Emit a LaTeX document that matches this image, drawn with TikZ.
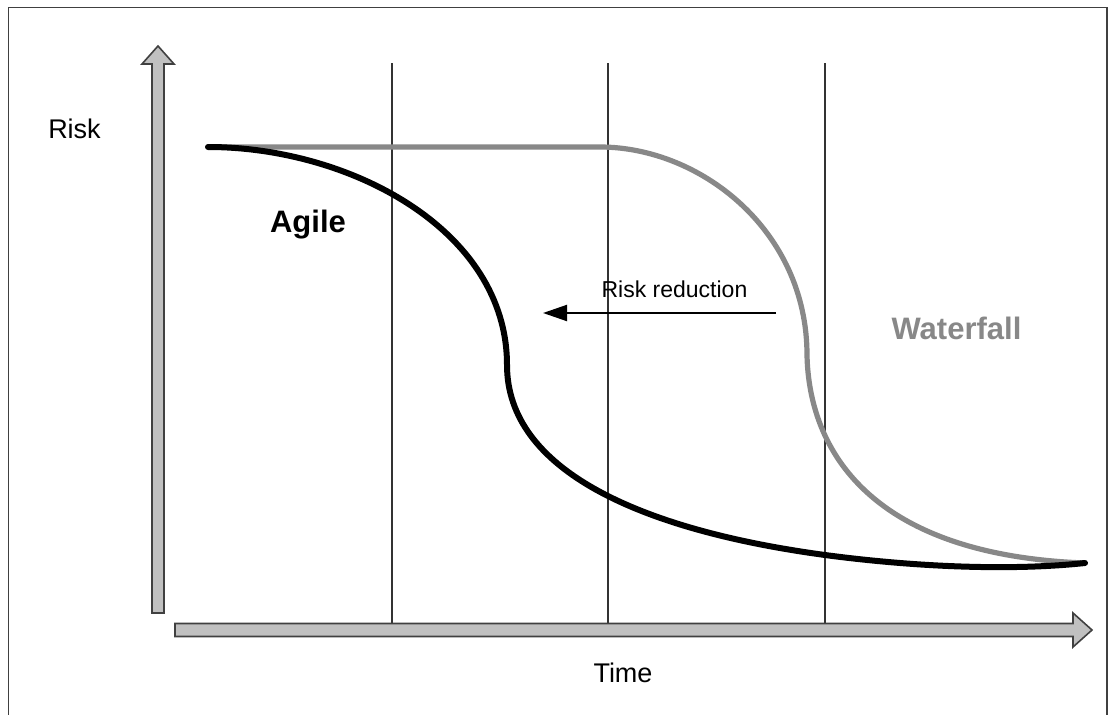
\documentclass[tikz,border=0pt]{standalone}
\usepackage{fontspec}
\setmainfont{Liberation Sans}
\usetikzlibrary{arrows.meta}
\definecolor{axisfill}{HTML}{C0C0C0}
\definecolor{axisline}{HTML}{404040}
\definecolor{wfgray}{HTML}{888888}
\tikzset{
  blockarrow/.style={fill=axisfill,draw=axisline,line width=1.6pt,line join=miter},
  gridline/.style={draw=black!80,line width=1.3pt},
  agilecurve/.style={draw=black,line width=6pt,line cap=round},
  wfcurve/.style={draw=wfgray,line width=5.2pt,line cap=round},
  lbl/.style={inner sep=0pt,anchor=base,font=\fontsize{27}{27}\selectfont},
  biglbl/.style={inner sep=0pt,anchor=base,font=\fontsize{31}{31}\selectfont\bfseries},
}
\begin{document}
\begin{tikzpicture}[x=1pt,y=-1pt]
\useasboundingbox (0,0) rectangle (1109,715);
\fill[white] (0,0) rectangle (1109,715);
% frame
\draw[draw=axisline,line width=1.6pt] (8.5,725) -- (8.5,7.5) -- (1107,7.5) -- (1107,725);
% grid lines
\coordinate (g1t) at (392,63); \coordinate (g1b) at (392,624);
\coordinate (g2t) at (608,63); \coordinate (g2b) at (608,624);
\coordinate (g3t) at (825,63); \coordinate (g3b) at (825,624);
\draw[gridline] (g1t) -- (g1b);
\draw[gridline] (g2t) -- (g2b);
\draw[gridline] (g3t) -- (g3b);
% vertical axis block arrow
\draw[blockarrow] (152,613) -- (152,64) -- (142,64) -- (158,46) -- (174,64) -- (164,64) -- (164,613) -- cycle;
% horizontal axis block arrow
\draw[blockarrow] (175,623.5) -- (1073,623.5) -- (1073,613) -- (1092,630) -- (1073,647) -- (1073,636.5) -- (175,636.5) -- cycle;
% curves
\coordinate (start) at (208,147);
\coordinate (finish) at (1085,563);
\coordinate (wfA) at (600,147);
\coordinate (wfB) at (807,355);
\coordinate (agB) at (507,365);
\coordinate (agC) at (825,555);
\draw[wfcurve] (start) -- (wfA) .. controls (700,147) and (807,230) .. (wfB)
  .. controls (809,450) and (870,555) .. (finish);
\draw[agilecurve] (start) .. controls (350,147) and (507,230) .. (agB)
  .. controls (507,470) and (640,530) .. (agC)
  .. controls (900,565) and (1000,572) .. (finish);
% risk reduction arrow
\coordinate (rrs) at (776,313);
\coordinate (rre) at (543,313);
\draw[line width=2pt,-{Triangle[length=24pt,width=16pt]}] (rrs) -- (rre);
% labels
\node[lbl] (risk) at (74.5,138) {Risk};
\node[lbl] (time) at (623,682) {Time};
\node[inner sep=0pt,anchor=base,font=\fontsize{23}{23}\selectfont] (rr) at (674.5,297) {Risk reduction};
\node[biglbl] (agile) at (308,232) {Agile};
\node[biglbl,text=wfgray] (wf) at (956.5,339) {Waterfall};
\end{tikzpicture}
\end{document}
